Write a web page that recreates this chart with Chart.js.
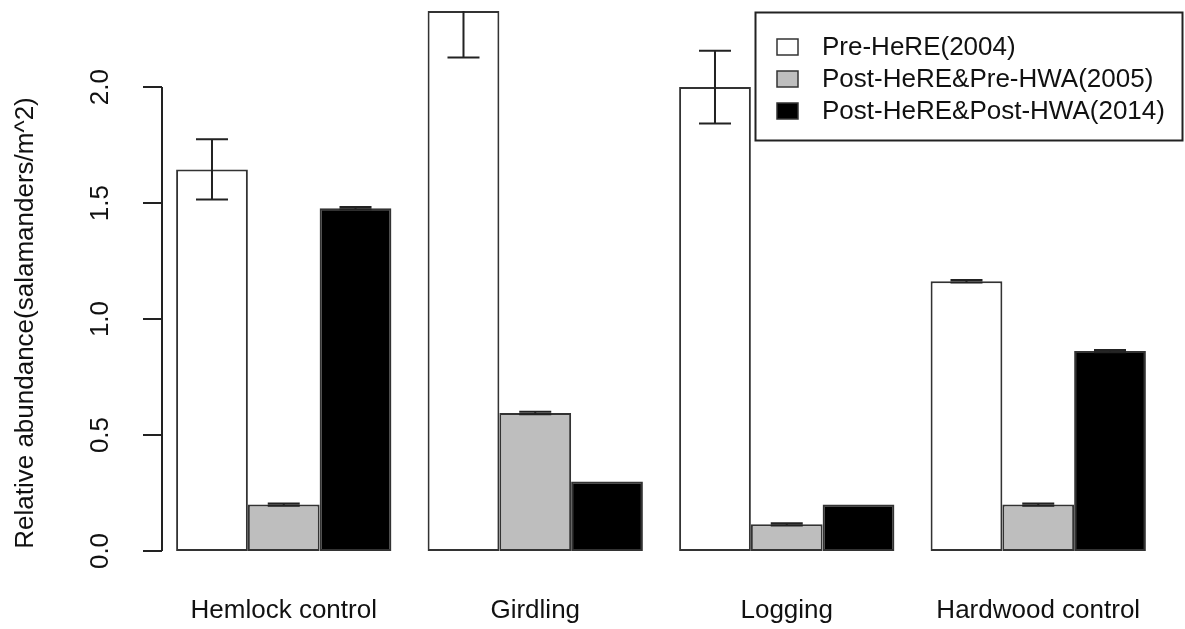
<!DOCTYPE html>
<html>
<head>
<meta charset="utf-8">
<script src="https://cdn.jsdelivr.net/npm/chart.js@4.4.1/dist/chart.umd.min.js"></script>
<style>
  html, body { margin: 0; padding: 0; background: #fff; }
  #wrap { width: 1185px; height: 629px; }
</style>
</head>
<body>
<div id="wrap"><canvas id="c" width="1185" height="629"></canvas></div>
<script>
// ---- data ----
const categories = ['Hemlock control', 'Girdling', 'Logging', 'Hardwood control'];
const seriesLabels = ['Pre-HeRE(2004)', 'Post-HeRE&Pre-HWA(2005)', 'Post-HeRE&Post-HWA(2014)'];
const pre2004 = [1.645, 2.328, 2.0, 1.163];
const post2005 = [0.2, 0.595, 0.115, 0.2];
const post2014 = [1.478, 0.3, 0.2, 0.862];
const se2004 = [0.13, 0.2, 0.157, 0.005];
const se2005 = [0.005, 0.005, 0.005, 0.005];
const se2014 = [0.005, 0, 0, 0.005];
const yTicks = [0, 0.5, 1.0, 1.5, 2.0];
const yTickLabels = ['0.0', '0.5', '1.0', '1.5', '2.0'];
const yTitle = 'Relative abundance(salamanders/m^2)';

const FONT = '"Liberation Sans", Arial, sans-serif';
const FS = 26;
const fills = ['#ffffff', '#bebebe', '#000000'];
const errs = [se2004, se2005, se2014];

const errorBarPlugin = {
  id: 'errbars',
  afterDatasetsDraw(chart) {
    const ctx = chart.ctx, y = chart.scales.y, a = chart.chartArea;
    ctx.save();
    ctx.beginPath();
    ctx.rect(a.left, a.top, a.right - a.left, a.bottom - a.top);
    ctx.clip();
    ctx.strokeStyle = '#222';
    ctx.lineWidth = 2;
    chart.data.datasets.forEach((ds, di) => {
      const meta = chart.getDatasetMeta(di);
      meta.data.forEach((bar, i) => {
        const v = ds.data[i], e = errs[di][i];
        if (!e) return;
        const x = bar.x;
        const yh = y.getPixelForValue(v + e), yl = y.getPixelForValue(v - e);
        const hw = 16;
        ctx.beginPath();
        ctx.moveTo(x, yh); ctx.lineTo(x, yl);
        ctx.moveTo(x - hw, yh); ctx.lineTo(x + hw, yh);
        ctx.moveTo(x - hw, yl); ctx.lineTo(x + hw, yl);
        ctx.stroke();
      });
    });
    ctx.restore();
  }
};

const axisPlugin = {
  id: 'raxis',
  afterDraw(chart) {
    const ctx = chart.ctx, y = chart.scales.y;
    const ax = 162;
    ctx.save();
    ctx.strokeStyle = '#222';
    ctx.lineWidth = 2;
    ctx.beginPath();
    ctx.moveTo(ax, y.getPixelForValue(yTicks[0]));
    ctx.lineTo(ax, y.getPixelForValue(yTicks[yTicks.length - 1]));
    yTicks.forEach(t => {
      const py = y.getPixelForValue(t);
      ctx.moveTo(143, py); ctx.lineTo(ax, py);
    });
    ctx.stroke();
    ctx.fillStyle = '#111';
    ctx.font = FS + 'px ' + FONT;
    ctx.textAlign = 'center';
    ctx.textBaseline = 'middle';
    yTicks.forEach((t, i) => {
      const py = y.getPixelForValue(t);
      ctx.save();
      ctx.translate(101, py);
      ctx.rotate(-Math.PI / 2);
      ctx.fillText(yTickLabels[i], 0, 0);
      ctx.restore();
    });
    ctx.save();
    ctx.translate(26, 323);
    ctx.rotate(-Math.PI / 2);
    ctx.fillText(yTitle, 0, 0);
    ctx.restore();

    // legend
    const lx = 755, ly = 12, lw = 428, lh = 128;
    ctx.fillStyle = '#fff';
    ctx.fillRect(lx, ly, lw, lh);
    ctx.strokeStyle = '#222';
    ctx.lineWidth = 2;
    ctx.strokeRect(lx + 0.5, ly + 0.5, lw - 1, lh);
    const rows = [47, 79, 111];
    ctx.textAlign = 'left';
    ctx.font = FS + 'px ' + FONT;
    chart.data.datasets.forEach((ds, i) => {
      ctx.fillStyle = ds.backgroundColor;
      ctx.fillRect(777, rows[i] - 8, 21, 16);
      ctx.lineWidth = 1.5;
      ctx.strokeStyle = '#333';
      ctx.strokeRect(777, rows[i] - 8, 21, 16);
      ctx.fillStyle = '#111';
      ctx.fillText(ds.label, 822, rows[i] + 1);
    });
    ctx.restore();
  }
};

new Chart(document.getElementById('c'), {
  type: 'bar',
  data: {
    labels: categories,
    datasets: [pre2004, post2005, post2014].map((d, i) => ({
      label: seriesLabels[i],
      data: d,
      backgroundColor: fills[i],
      borderColor: '#333',
      borderWidth: 2,
      borderSkipped: false,
      categoryPercentage: 0.856,
      barPercentage: 1.0
    }))
  },
  options: {
    responsive: false,
    animation: false,
    devicePixelRatio: 1,
    layout: { padding: { left: 0, right: 21, top: 11, bottom: 0 } },
    plugins: { legend: { display: false }, tooltip: { enabled: false } },
    scales: {
      x: {
        grid: { display: false },
        border: { display: false },
        ticks: { font: { size: FS, family: FONT }, color: '#111', padding: 36, maxRotation: 0 },
        afterFit(s) { s.height = 78; }
      },
      y: {
        min: 0,
        max: 2.328,
        grid: { display: false },
        border: { display: false },
        ticks: { display: false },
        afterFit(s) { s.width = 158; }
      }
    }
  },
  plugins: [errorBarPlugin, axisPlugin]
});
</script>
</body>
</html>
